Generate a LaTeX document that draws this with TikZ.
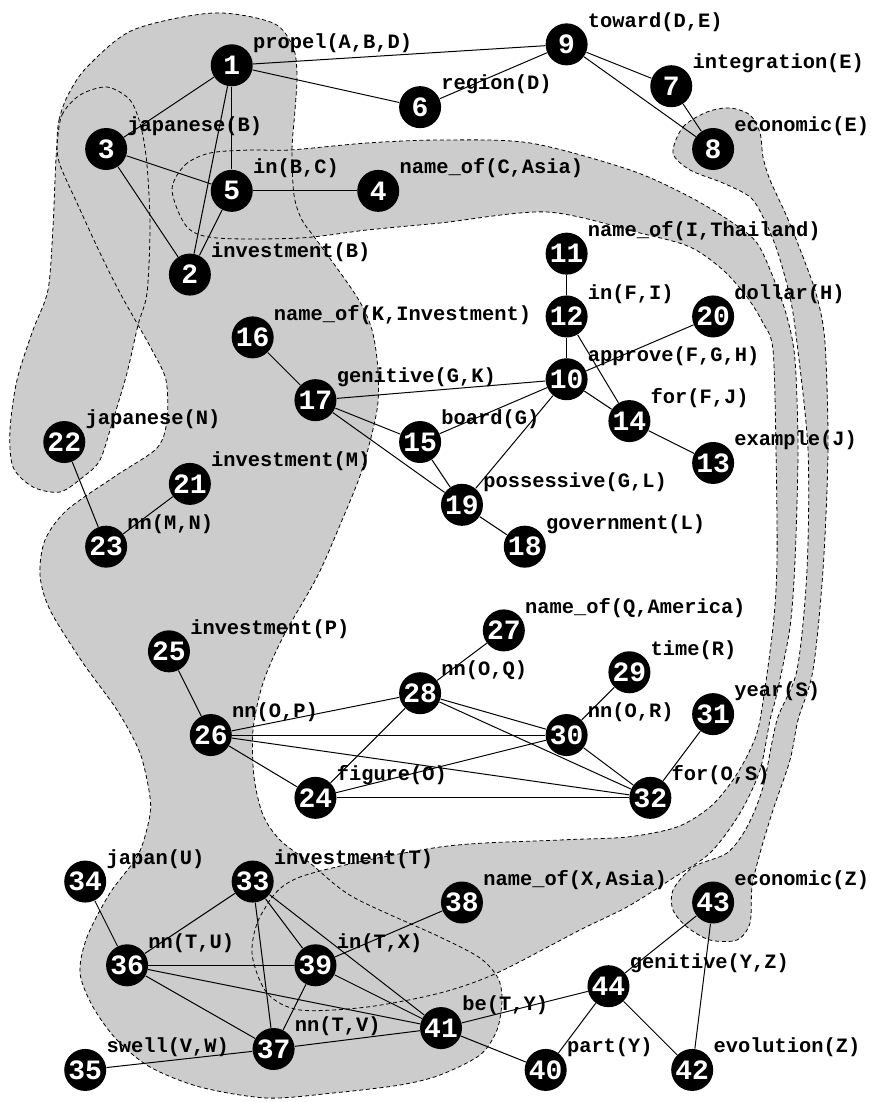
\documentclass[tikz,border=0pt]{standalone}
\usepackage{fontspec}
\setmonofont{Liberation Mono}
\usetikzlibrary{positioning}

\begin{document}
\begin{tikzpicture}[x=10.465pt, y=10.465pt,
		ent/.style={circle, fill=black, text=white, inner sep=0pt, minimum size=21pt, on grid, font=\ttfamily\bfseries\fontsize{14}{14}\selectfont},
		lbl/.style={anchor=west, inner sep=0pt, xshift=2.9pt, yshift=3.7pt, text=black, font=\ttfamily\bfseries\fontsize{10.2}{12}\selectfont},
		tag/.style={label={[lbl]45:#1}},
		zone/.style={fill=black!20},
		rim/.style={draw=black, line width=0.4pt, dash pattern=on 2pt off 1.4pt},
		rel/.style={line width=0.5pt}]
		
		%zones grises
		\begin{scope}[shift={(-0.0717,0.1194)}, x=0.5pt, y=-0.5pt]
			\useasboundingbox (0,0) rectangle (871,1102);
			\path[save path=\zoneA] plot[smooth cycle, tension=0.5] coordinates {(57,145) (59,120) (68,95) (87,67) (133,30) (213,13) (273,23) (293,47) (297,75) (295,110) (292,150) (294,195) (302,220) (318,242) (357,297) (372,330) (378,370) (377,410) (362,470) (340,525) (317,577) (283,637) (263,683) (253,730) (254,777) (263,815) (280,840) (310,863) (353,897) (440,937) (480,958) (498,978) (502,1000) (497,1030) (480,1055) (440,1075) (400,1085) (333,1093) (267,1098) (200,1087) (150,1067) (117,1040) (93,1007) (80,973) (87,937) (110,893) (138,855) (149,820) (150,797) (140,753) (117,710) (83,663) (50,610) (40,575) (45,540) (67,510) (117,475) (157,448) (167,420) (166,380) (152,350) (138,325) (120,293) (100,253) (77,203) (60,165)};
			\path[save path=\zoneB] plot[smooth cycle, tension=0.5] coordinates {(57,145) (62,115) (80,95) (107,87) (130,100) (141,127) (147,165) (150,227) (147,293) (138,325) (127,373) (113,420) (100,460) (83,477) (60,492) (33,487) (13,467) (10,430) (17,380) (33,330) (48,290) (53,227) (55,180)};
			\path[save path=\zoneC] plot[smooth cycle, tension=0.5] coordinates {(172,190) (185,165) (210,153) (250,150) (290,150) (367,143) (440,140) (530,143) (630,170) (690,197) (733,223) (757,243) (773,277) (787,317) (795,360) (798,450) (795,560) (790,627) (777,693) (770,720) (760,770) (740,813) (710,853) (670,880) (627,907) (580,930) (497,973) (440,993) (367,1007) (300,1010) (267,993) (252,953) (262,913) (300,877) (440,847) (560,840) (627,837) (677,827) (710,807) (733,780) (750,750) (760,720) (773,627) (777,560) (776,450) (773,350) (763,323) (747,297) (723,270) (690,247) (640,233) (547,212) (440,223) (367,230) (300,238) (217,238) (187,227)};
			\path[save path=\zoneD] plot[smooth cycle, tension=0.5] coordinates {(673,153) (683,127) (707,112) (730,108) (750,115) (760,133) (763,157) (770,180) (787,217) (803,257) (817,297) (825,343) (828,450) (823,570) (813,670) (798,720) (790,760) (773,810) (760,853) (752,887) (750,923) (737,940) (710,940) (687,927) (673,910) (673,890) (693,867) (727,853) (747,827) (763,787) (777,720) (797,670) (807,570) (808,450) (797,343) (790,297) (777,250) (763,217) (750,197) (723,183) (690,170)};
			\fill[zone, use path=\zoneA];
			\fill[zone, use path=\zoneB];
			\fill[zone, use path=\zoneC];
			\fill[zone, use path=\zoneD];
			\draw[rim, use path=\zoneA];
			\draw[rim, use path=\zoneB];
			\draw[rim, use path=\zoneC];
			\draw[rim, use path=\zoneD];
		\end{scope}
		
		%noeuds du haut
		\node[ent, tag={propel(A,B,D)}] (n1) at (11,-3) {1};
		\node[ent, tag={japanese(B)}, below left = 4 and 6 of n1] (n3) {3};
		\node[ent, tag={in(B,C)}, below = 6 of n1] (n5) {5};
		\node[ent, tag={investment(B)}, below left = 4 and 2 of n5] (n2) {2};
		\node[ent, tag={name\_of(C,Asia)}, right = 7 of n5] (n4) {4};
		\node[ent, tag={region(D)}, below right = 2 and 9 of n1] (n6) {6};
		\node[ent, tag={toward(D,E)}, above right = 3 and 7 of n6] (n9) {9};
		\node[ent, tag={integration(E)}, below right = 2 and 5 of n9] (n7) {7};
		\node[ent, tag={economic(E)}, below right = 3 and 2 of n7] (n8) {8};
		
		\node[ent, tag={name\_of(I,Thailand)}, below = 10 of n9] (n11) {11};
		\node[ent, tag={in(F,I)}, below = 3 of n11] (n12) {12};
		\node[ent, tag={approve(F,G,H)}, below = 3 of n12] (n10) {10};
		\node[ent, tag={dollar(H)}, above right = 3 and 7 of n10] (n20) {20};
		\node[ent, tag={for(F,J)}, below right = 2 and 3 of n10] (n14) {14};
		\node[ent, tag={example(J)}, below right = 2 and 4 of n14] (n13) {13};
		\node[ent, tag={genitive(G,K)}, below left = 1 and 12 of n10] (n17) {17};
		\node[ent, tag={name\_of(K,Investment)}, above left = 3 and 3 of n17] (n16) {16};
		\node[ent, tag={board(G)}, below right = 2 and 5 of n17] (n15) {15};
		\node[ent, tag={possessive(G,L)}, below right = 3 and 2 of n15] (n19) {19};
		\node[ent, tag={government(L)}, below right = 2 and 3 of n19] (n18) {18};
		
		\node[ent, tag={investment(M)}, below left = 4 and 6 of n17] (n21) {21};
		\node[ent, tag={nn(M,N)}, below left = 3 and 4 of n21] (n23) {23};
		\node[ent, tag={japanese(N)}, above left = 5 and 2 of n23] (n22) {22};
		
		%noeuds du milieu
		\node[ent, tag={investment(P)}, below right = 5 and 3 of n23] (n25) {25};
		\node[ent, tag={nn(O,P)}, below right = 4 and 2 of n25] (n26) {26};
		\node[ent, tag={nn(O,Q)}, above right = 2 and 10 of n26] (n28) {28};
		\node[ent, tag={name\_of(Q,America)}, above right = 3 and 4 of n28] (n27) {27};
		\node[ent, tag={nn(O,R)}, right = 17 of n26] (n30) {30};
		\node[ent, tag={time(R)}, above right = 3 and 3 of n30] (n29) {29};
		\node[ent, tag={figure(O)}, below right = 3 and 5 of n26] (n24) {24};
		\node[ent, tag={for(O,S)}, right = 16 of n24] (n32) {32};
		\node[ent, tag={year(S)}, above right = 4 and 3 of n32] (n31) {31};
		
		%noeuds du bas
		\node[ent, tag={investment(T)}, below left = 4 and 3 of n24] (n33) {33};
		\node[ent, tag={japan(U)}, left = 8 of n33] (n34) {34};
		\node[ent, tag={nn(T,U)}, below left = 4 and 6 of n33] (n36) {36};
		\node[ent, tag={in(T,X)}, right = 9 of n36] (n39) {39};
		\node[ent, tag={nn(T,V)}, below left = 4 and 2 of n39] (n37) {37};
		\node[ent, tag={swell(V,W)}, below left = 1 and 9 of n37] (n35) {35};
		\node[ent, tag={be(T,Y)}, below right = 3 and 6 of n39] (n41) {41};
		\node[ent, tag={name\_of(X,Asia)}, above right = 3 and 7 of n39] (n38) {38};
		\node[ent, tag={part(Y)}, below right = 2 and 5 of n41] (n40) {40};
		\node[ent, tag={genitive(Y,Z)}, above right = 2 and 8 of n41] (n44) {44};
		\node[ent, tag={evolution(Z)}, below right = 4 and 4 of n44] (n42) {42};
		\node[ent, tag={economic(Z)}, above right = 4 and 5 of n44] (n43) {43};
		
		%arêtes
		\draw (n1) edge[rel] (n9);
		\draw (n1) edge[rel] (n6);
		\draw (n1) edge[rel] (n3);
		\draw (n1) edge[rel] (n5);
		\draw (n1) edge[rel] (n2);
		\draw (n3) edge[rel] (n5);
		\draw (n3) edge[rel] (n2);
		\draw (n5) edge[rel] (n2);
		\draw (n5) edge[rel] (n4);
		\draw (n9) edge[rel] (n6);
		\draw (n9) edge[rel] (n7);
		\draw (n9) edge[rel] (n8);
		\draw (n7) edge[rel] (n8);
		
		\draw (n11) edge[rel] (n12);
		\draw (n12) edge[rel] (n10);
		\draw (n12) edge[rel] (n14);
		\draw (n10) edge[rel] (n20);
		\draw (n10) edge[rel] (n17);
		\draw (n10) edge[rel] (n15);
		\draw (n10) edge[rel] (n19);
		\draw (n10) edge[rel] (n14);
		\draw (n14) edge[rel] (n13);
		\draw (n16) edge[rel] (n17);
		\draw (n17) edge[rel] (n15);
		\draw (n17) edge[rel] (n19);
		\draw (n15) edge[rel] (n19);
		\draw (n19) edge[rel] (n18);
		\draw (n22) edge[rel] (n23);
		\draw (n21) edge[rel] (n23);
		
		\draw (n25) edge[rel] (n26);
		\draw (n26) edge[rel] (n28);
		\draw (n26) edge[rel] (n30);
		\draw (n26) edge[rel] (n32);
		\draw (n26) edge[rel] (n24);
		\draw (n28) edge[rel] (n27);
		\draw (n28) edge[rel] (n24);
		\draw (n28) edge[rel] (n30);
		\draw (n28) edge[rel] (n32);
		\draw (n30) edge[rel] (n29);
		\draw (n30) edge[rel] (n24);
		\draw (n30) edge[rel] (n32);
		\draw (n24) edge[rel] (n32);
		\draw (n32) edge[rel] (n31);
		
		\draw (n34) edge[rel] (n36);
		\draw (n33) edge[rel] (n36);
		\draw (n33) edge[rel] (n37);
		\draw (n33) edge[rel] (n39);
		\draw (n33) edge[rel] (n41);
		\draw (n36) edge[rel] (n39);
		\draw (n36) edge[rel] (n41);
		\draw (n36) edge[rel] (n37);
		\draw (n39) edge[rel] (n37);
		\draw (n39) edge[rel] (n41);
		\draw (n39) edge[rel] (n38);
		\draw (n37) edge[rel] (n41);
		\draw (n37) edge[rel] (n35);
		\draw (n41) edge[rel] (n44);
		\draw (n41) edge[rel] (n40);
		\draw (n44) edge[rel] (n40);
		\draw (n44) edge[rel] (n42);
		\draw (n44) edge[rel] (n43);
		\draw (n43) edge[rel] (n42);
		
	\end{tikzpicture}
\end{document}
